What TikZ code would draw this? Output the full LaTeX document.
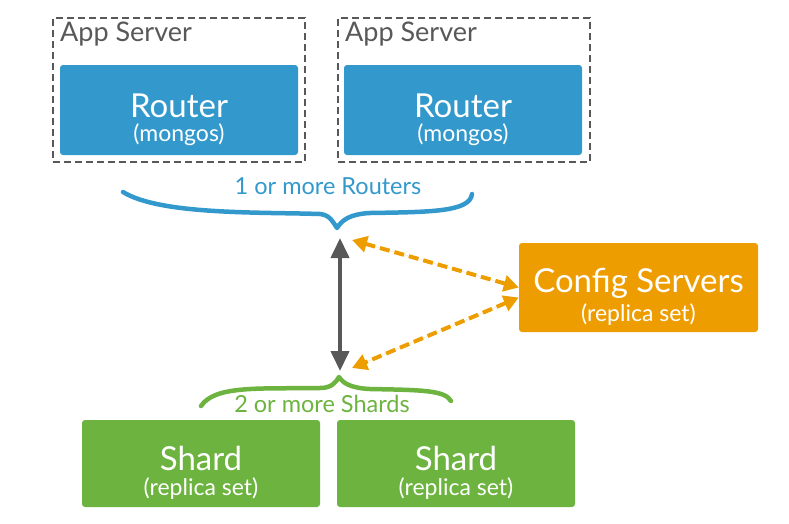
\documentclass[tikz,border=0pt]{standalone}
\usepackage{fontspec}
\setmainfont{Lato}
\usetikzlibrary{positioning,arrows.meta}
\definecolor{routerblue}{RGB}{51,153,204}
\definecolor{cfgorange}{RGB}{238,157,0}
\definecolor{shardgreen}{RGB}{109,179,63}
\definecolor{darkgray}{RGB}{88,88,88}
\newcommand{\bigtxt}{\fontsize{33}{35}\selectfont\rule{0pt}{43pt}}
\newcommand{\smalltxt}{\fontsize{23}{25}\selectfont}
\tikzset{
  appbox/.style={draw=darkgray, dashed, dash pattern=on 7pt off 4pt, line width=2pt, minimum width=252pt, minimum height=144pt},
  routernode/.style={fill=routerblue, rounded corners=3pt, text=white, minimum width=238pt, minimum height=90pt, align=center},
  confignode/.style={fill=cfgorange, rounded corners=3pt, text=white, minimum width=239pt, minimum height=89pt, align=center},
  shardnode/.style={fill=shardgreen, rounded corners=3pt, text=white, minimum width=238pt, minimum height=87pt, align=center},
  bracelabel/.style={font=\fontsize{23.5}{25}\selectfont, inner sep=0pt},
  mainarrow/.style={{Triangle[length=20pt,width=18pt]}-{Triangle[length=20pt,width=18pt]}, draw=darkgray, fill=darkgray, line width=4pt},
  cfgarrow/.style={{Triangle[length=15pt,width=16pt]}-{Triangle[length=15pt,width=16pt]}, draw=cfgorange, fill=cfgorange, line width=4pt, dash pattern=on 10pt off 5pt},
  brace/.style={line width=4.5pt, line cap=round, line join=round}
}

\begin{document}
\begin{tikzpicture}[x=1pt, y=-1pt]
  \useasboundingbox (0,0) rectangle (789,523);

  % app servers with routers
  \node[appbox] (app1) at (179,90) {};
  \node[appbox] (app2) at (464,90) {};
  \node[anchor=north west, inner sep=0pt, text=darkgray, font=\fontsize{27}{29}\selectfont] (app1lbl) at (60,22) {App Server};
  \node[anchor=north west, inner sep=0pt, text=darkgray, font=\fontsize{27}{29}\selectfont] (app2lbl) at (345,22) {App Server};
  \node[routernode] (router1) at (179,110) {\bigtxt Router\\[5pt]\smalltxt (mongos)};
  \node[routernode] (router2) at (463,110) {\bigtxt Router\\[5pt]\smalltxt (mongos)};

  % brace over the routers
  \draw[brace, routerblue] (123,192) .. controls (160,215) and (260,212) .. (320,214)
    .. controls (330,215) and (333,222) .. (337,228) coordinate (rtip)
    .. controls (342,220) and (350,214) .. (370,213)
    .. controls (430,212) and (470,212) .. (472,194);
  \node[bracelabel, text=routerblue] (rlbl) at (328,186) {1 or more Routers};

  % config servers
  \node[confignode] (cfg) at (638.5,287.5) {\bigtxt Config Servers\\[5pt]\smalltxt (replica set)};

  % shards
  \node[shardnode] (shard1) at (201,463.5) {\bigtxt Shard\\[5pt]\smalltxt (replica set)};
  \node[shardnode] (shard2) at (456,463.5) {\bigtxt Shard\\[5pt]\smalltxt (replica set)};

  % brace over the shards
  \draw[brace, shardgreen] (201,406) .. controls (215,385) and (260,389) .. (320,388)
    .. controls (332,388) and (336,382) .. (339,377) coordinate (stip)
    .. controls (343,383) and (350,388) .. (370,389)
    .. controls (420,390) and (445,390) .. (451,401);
  \node[bracelabel, text=shardgreen] (slbl) at (322,404) {2 or more Shards};

  % connectors
  \coordinate (rtop) at (340,238);
  \coordinate (sbot) at (340,371);
  \coordinate (rcfg) at (352,240);
  \coordinate (scfg) at (352,368);
  \draw[mainarrow] (rtop) -- (sbot);
  \draw[cfgarrow] (rcfg) -- ([yshift=0pt]cfg.west);
  \draw[cfgarrow] ([yshift=-10pt]cfg.west) -- (scfg);
\end{tikzpicture}
\end{document}
